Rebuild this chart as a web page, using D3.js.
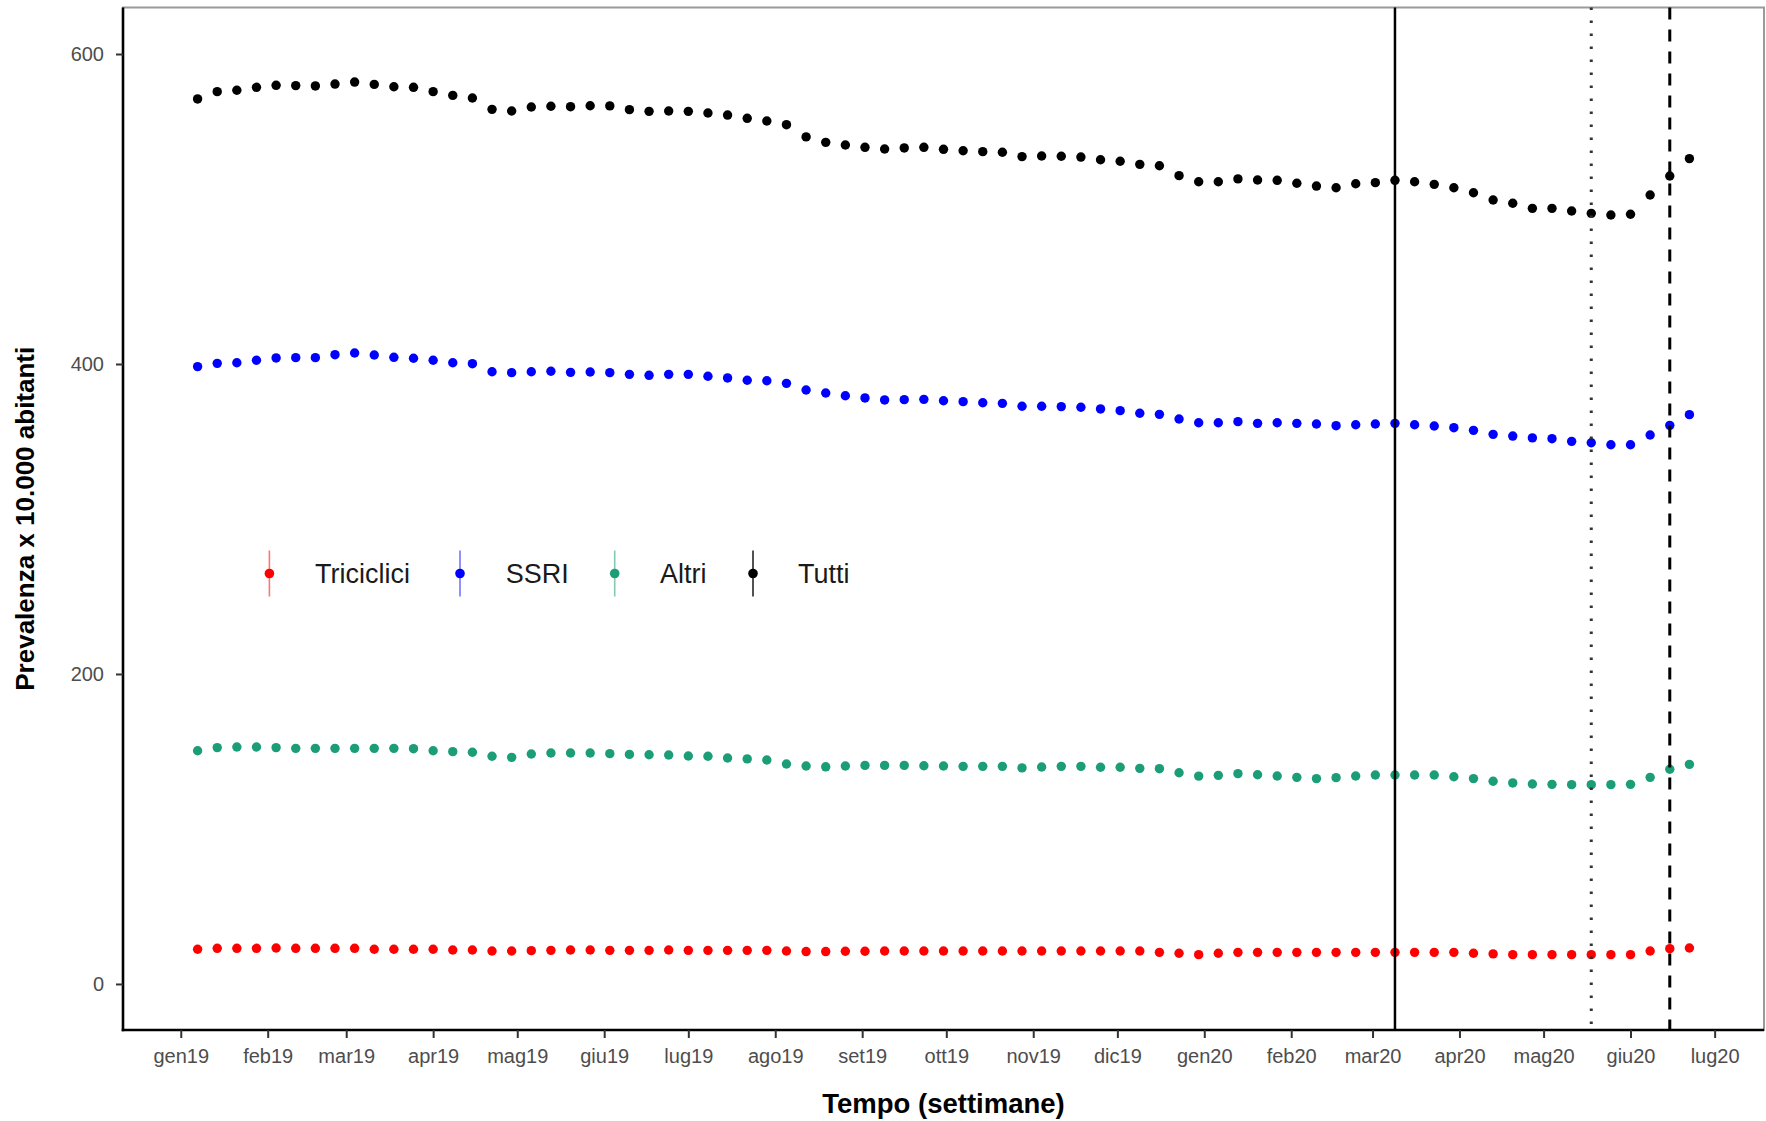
<!DOCTYPE html>
<html>
<head>
<meta charset="utf-8">
<script src="https://cdn.jsdelivr.net/npm/d3@7"></script>
<style>
  html, body { margin: 0; padding: 0; background: #fff; }
  svg { display: block; font-family: "Liberation Sans", Arial, sans-serif; }
</style>
</head>
<body>
<svg id="chart" width="1766" height="1121"></svg>
<script>
// ---------------- DATA ----------------
const firstWeek = "2019-01-07";
const lastWeek = "2020-06-22";

const seriesNames = ["Triciclici", "SSRI", "Altri", "Tutti"];
const seriesColors = ["#ff0000", "#0000ff", "#1b9e77", "#000000"];

const triciclici = [22.4, 23.0, 23.0, 23.0, 23.2, 23.0, 23.0, 23.0, 23.0, 22.4, 22.4, 22.4, 22.4, 21.9, 21.9, 21.3, 21.3, 21.5, 21.7, 21.9, 21.9,
  21.7, 21.7, 21.7, 21.9, 21.7, 21.7, 21.7, 21.7, 21.7, 21.3, 20.9, 20.9, 21.1, 21.1, 21.3, 21.3, 21.3, 21.3, 21.3, 21.3, 21.3, 21.3, 21.3, 21.3, 21.3, 21.3, 21.3, 21.3, 20.4, 19.8,
  18.9, 19.8, 20.4, 20.4, 20.4, 20.4, 20.4, 20.4, 20.4, 20.4, 20.4, 20.4, 20.4, 20.4, 19.8, 19.4, 18.9, 18.9, 18.9, 18.9, 18.9, 18.9, 18.9, 21.3, 22.8, 23.2];

const ssri = [398.3, 400.4, 400.8, 402.4, 403.9, 404.1, 404.1, 406.0, 407.1, 405.8, 404.3, 403.7, 402.4, 400.8, 400.2, 395.0, 394.4, 395.0, 395.3, 394.6, 394.8,
  394.4, 393.3, 392.7, 393.3, 393.3, 392.1, 391.0, 389.5, 389.2, 387.5, 383.2, 381.3, 379.5, 378.1, 376.8, 377.0, 377.2, 376.3, 375.7, 375.0, 374.6, 372.7, 372.7, 372.5, 372.1, 371.0, 369.9, 368.2, 367.5, 364.5,
  362.1, 362.1, 362.8, 361.7, 362.1, 361.7, 361.3, 360.2, 360.8, 361.3, 361.7, 360.8, 360.0, 358.9, 357.2, 354.6, 353.5, 352.3, 351.8, 350.1, 349.2, 347.9, 347.9, 354.2, 360.4, 367.3];

const altri = [150.5, 152.5, 152.9, 152.9, 152.5, 152.0, 152.0, 152.0, 152.0, 152.0, 152.0, 151.8, 150.5, 149.9, 149.5, 146.9, 146.2, 148.4, 149.0, 149.0, 149.0,
  148.6, 148.1, 147.9, 147.7, 147.1, 146.9, 145.8, 145.2, 144.5, 141.9, 140.6, 140.1, 140.6, 141.0, 141.0, 141.0, 140.8, 140.6, 140.4, 140.4,
  140.4, 139.4, 140.0, 140.4, 140.4, 139.8, 139.8, 139.1, 138.9, 136.3,
  134.1, 134.6, 135.7, 135.0, 134.2, 133.3, 132.5, 133.1, 134.2, 134.8, 134.8, 134.8, 134.8, 133.7, 132.5, 130.8, 129.7, 129.0, 128.8, 128.6, 128.6, 128.6, 128.8, 133.3, 138.5, 141.7];

const tutti = [571.0, 575.7, 576.6, 578.5, 579.8, 579.6, 579.4, 580.6, 581.9, 580.4, 578.9, 578.5, 575.7, 573.3, 571.6, 564.3, 563.2, 565.8, 566.3, 566.0, 566.6,
  566.5, 564.1, 563.0, 563.2, 563.0, 561.9, 560.6, 558.5, 556.8, 554.4, 546.5, 543.0, 541.3, 539.8, 538.7, 539.4, 539.8, 538.5, 537.6, 537.0, 536.6, 533.8, 534.2, 534.0, 533.5, 531.8, 530.8, 528.8, 527.9, 521.5,
  517.6, 517.6, 519.4, 518.7, 518.5, 516.6, 514.8, 513.7, 516.3, 517.0, 518.5, 517.6, 515.9, 513.7, 510.5, 505.8, 503.7, 500.4, 500.4, 498.7, 497.2, 496.1, 496.6, 509.0, 521.3, 532.5];

const xTickDates = ["2019-01-01", "2019-02-01", "2019-03-01", "2019-04-01", "2019-05-01", "2019-06-01", "2019-07-01", "2019-08-01",
  "2019-09-01", "2019-10-01", "2019-11-01", "2019-12-01", "2020-01-01", "2020-02-01", "2020-03-01", "2020-04-01",
  "2020-05-01", "2020-06-01", "2020-07-01"];
const xTickLabels = ["gen19", "feb19", "mar19", "apr19", "mag19", "giu19", "lug19", "ago19", "set19", "ott19", "nov19", "dic19",
  "gen20", "feb20", "mar20", "apr20", "mag20", "giu20", "lug20"];
const yTickValues = [0, 200, 400, 600];
const yDomain = [-29.7, 630];

const eventDates = ["2020-03-09", "2020-05-18", "2020-06-15"];
const eventStyles = ["solid", "dotted", "dashed"];

const xTitle = "Tempo (settimane)";
const yTitle = "Prevalenza x 10.000 abitanti";

// ---------------- LAYOUT ----------------
const W = 1766, H = 1121;
const panel = { left: 123, right: 1764, top: 7.5, bottom: 1030 };

const parse = d3.utcParse("%Y-%m-%d");
const weeks = d3.utcMonday.range(parse(firstWeek), d3.utcDay.offset(parse(lastWeek), 1));
const seriesValues = [triciclici, ssri, altri, tutti];

const t0 = weeks[0].getTime(), t1 = weeks[weeks.length - 1].getTime();
const pad = (t1 - t0) * 0.05;
const x = d3.scaleUtc()
  .domain([new Date(t0 - pad), new Date(t1 + pad)])
  .range([panel.left, panel.right]);
const y = d3.scaleLinear().domain(yDomain).range([panel.bottom, panel.top]);

const svg = d3.select("#chart");
svg.append("rect").attr("width", W).attr("height", H).attr("fill", "#fff");

// gray frame (top/right)
svg.append("rect")
  .attr("x", panel.left).attr("y", panel.top)
  .attr("width", panel.right - panel.left).attr("height", panel.bottom - panel.top)
  .attr("fill", "none").attr("stroke", "#9a9a9a").attr("stroke-width", 2);

// points
seriesValues.forEach((vals, si) => {
  svg.append("g")
    .selectAll("circle")
    .data(vals.map((v, i) => ({ date: weeks[i], value: v })))
    .join("circle")
    .attr("cx", d => x(d.date))
    .attr("cy", d => y(d.value))
    .attr("r", 4.7)
    .attr("fill", seriesColors[si]);
});

// event lines
const dashMap = { solid: null, dotted: "2.5,10.5", dashed: "12,10" };
eventDates.forEach((ds, i) => {
  const xx = x(parse(ds));
  svg.append("line")
    .attr("x1", xx).attr("x2", xx)
    .attr("y1", panel.top).attr("y2", panel.bottom)
    .attr("stroke", eventStyles[i] === "dotted" ? "#333" : "#000")
    .attr("stroke-width", eventStyles[i] === "solid" ? 2.5 : 3)
    .attr("stroke-dasharray", dashMap[eventStyles[i]]);
});

// axes
const xAxis = d3.axisBottom(x)
  .tickValues(xTickDates.map(parse))
  .tickFormat((d, i) => xTickLabels[i])
  .tickSize(8).tickSizeOuter(0).tickPadding(11);
const gx = svg.append("g").attr("transform", `translate(0,${panel.bottom})`).call(xAxis);

const yAxis = d3.axisLeft(y)
  .tickValues(yTickValues)
  .tickFormat(d3.format("d"))
  .tickSize(7).tickSizeOuter(0).tickPadding(12);
const gy = svg.append("g").attr("transform", `translate(${panel.left},0)`).call(yAxis);

[gx, gy].forEach(g => {
  g.select(".domain").attr("stroke", "#000").attr("stroke-width", 2.6);
  g.selectAll(".tick line").attr("stroke", "#333").attr("stroke-width", 2);
  g.selectAll(".tick text")
    .attr("fill", "#4d4d4d")
    .style("font-size", "20px")
    .style("font-family", "'Liberation Sans', Arial, sans-serif");
});
// extend domain lines to meet at corner
gx.select(".domain").attr("d", `M${panel.left - 1.3},0H${panel.right}`);
gy.select(".domain").attr("d", `M0,${panel.bottom + 1.3}V${panel.top}`);

// titles
svg.append("text")
  .attr("x", (panel.left + panel.right) / 2)
  .attr("y", 1113)
  .attr("text-anchor", "middle")
  .attr("font-weight", "bold")
  .attr("font-size", 27.5)
  .attr("fill", "#000")
  .text(xTitle);

svg.append("text")
  .attr("transform", `translate(34,${(panel.top + panel.bottom) / 2}) rotate(-90)`)
  .attr("text-anchor", "middle")
  .attr("font-weight", "bold")
  .attr("font-size", 26)
  .attr("fill", "#000")
  .text(yTitle);

// legend
const legendKeyX = [269.4, 460, 614.7, 753];
const legendTextX = [315, 505.7, 660, 798];
const legendY = 573.5;
const lg = svg.append("g");
seriesNames.forEach((name, i) => {
  lg.append("line")
    .attr("x1", legendKeyX[i]).attr("x2", legendKeyX[i])
    .attr("y1", legendY - 23).attr("y2", legendY + 23)
    .attr("stroke", seriesColors[i])
    .attr("stroke-opacity", i === 3 ? 0.85 : 0.55)
    .attr("stroke-width", 1.6);
  lg.append("circle")
    .attr("cx", legendKeyX[i]).attr("cy", legendY)
    .attr("r", 4.8)
    .attr("fill", seriesColors[i]);
  lg.append("text")
    .attr("x", legendTextX[i]).attr("y", legendY + 9.7)
    .attr("font-size", 27)
    .attr("fill", "#1a1a1a")
    .text(name);
});
</script>
</body>
</html>
